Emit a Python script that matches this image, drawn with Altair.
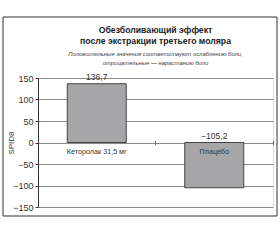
import altair as alt
import pandas as pd

categories = ["Кеторолак 31,5 мг", "Плацебо"]
values = [136.7, -105.2]
value_labels = ["136,7", "−105,2"]

title_lines = ["Обезболивающий эффект", "после экстракции третьего моляра"]
subtitle_lines = ["Положительные значения соответствуют ослаблению боли,",
                  "отрицательные — нарастанию боли"]
y_ticks = [-150, -100, -50, 0, 50, 100, 150]

df = pd.DataFrame({"cat": categories, "val": values, "lab": value_labels})
df["laby"] = df["val"].clip(lower=0)
df["zero"] = 0

FONT = "Liberation Sans"
xscale = alt.Scale(domain=categories, paddingInner=0, paddingOuter=0)
xaxis = alt.Axis(title=None, labels=False, domain=False, ticks=True, tickSize=4,
                 tickColor="#666", bandPosition=1, offset=-66.5, zindex=1)

yscale = alt.Scale(domain=[-150, 150], nice=False)
yaxis = alt.Axis(values=y_ticks, tickCount=7, title="SPID8", grid=True, gridColor="#8c8c8c",
                 gridWidth=1.2, domainColor="#333", tickColor="#333", tickSize=3,
                 labelPadding=2, labelFont=FONT, labelFontSize=9, labelColor="#333",
                 labelOverlap=False,
                 titleFont=FONT, titleFontSize=8, titleFontWeight="normal",
                 titleColor="#333", titleX=-27, titleY=64.5, titleAngle=-90,
                 titleBaseline="middle", titleAlign="center")

base = alt.Chart(df)

bars = base.mark_bar(color="#a6a6a8", stroke="#444444", strokeWidth=1, size=59).encode(
    x=alt.X("cat:N", scale=xscale, axis=xaxis),
    y=alt.Y("val:Q", scale=yscale, axis=yaxis),
    y2=alt.Y2("zero:Q"),
)

val_text = base.mark_text(font=FONT, fontSize=8.5, color="#333", baseline="bottom", dy=-2).encode(
    x=alt.X("cat:N", scale=xscale, axis=xaxis),
    y=alt.Y("laby:Q", scale=yscale, axis=yaxis),
    text="lab:N",
)

cat_text = base.mark_text(font=FONT, fontSize=7.2, color="#333", baseline="top", dy=5).encode(
    x=alt.X("cat:N", scale=xscale, axis=xaxis),
    y=alt.Y("zero:Q", scale=yscale, axis=yaxis),
    text="cat:N",
)

frame = alt.Chart(pd.DataFrame({"a": [0]})).mark_rect(
    fill=None, stroke="#333333", strokeWidth=1
).encode(x=alt.value(-35), x2=alt.value(239), y=alt.value(-61), y2=alt.value(138))

chart = alt.layer(frame, bars, val_text, cat_text).properties(
    width=235, height=129,
    autosize=alt.AutoSizeParams(type="none"),
    padding={"left": 38, "top": 78, "right": 7, "bottom": 33},
    title=alt.TitleParams(
        text=title_lines, subtitle=subtitle_lines, anchor="middle",
        font=FONT, fontSize=8.7, fontWeight="bold", color="#222", lineHeight=11,
        subtitleFont=FONT, subtitleFontSize=5.9, subtitleFontStyle="italic",
        subtitleColor="#444", subtitleLineHeight=9, subtitlePadding=5, offset=0, dy=49,
    ),
).configure_view(stroke=None).configure(background="white")

chart.save("out.html", embed_options={"renderer": "svg", "actions": False})
